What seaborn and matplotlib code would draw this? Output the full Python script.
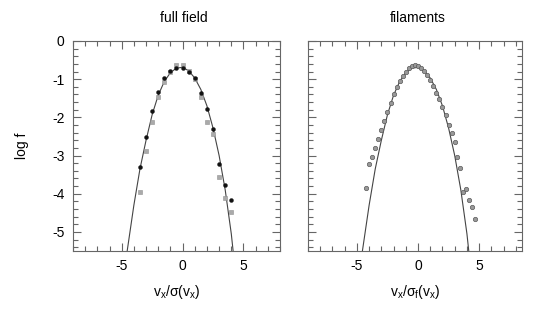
import numpy as np
import pandas as pd
import seaborn as sns
import matplotlib
matplotlib.use("Agg")
import matplotlib.pyplot as plt
from matplotlib.ticker import MultipleLocator

# model curve
curve_x = [-4.55, -4.0, -3.5, -3.0, -2.5, -2.0, -1.5, -1.0, -0.5, 0.0,
           0.5, 1.0, 1.5, 2.0, 2.5, 3.0, 3.5, 4.0, 4.15]
curve_y = [-5.5, -4.3, -3.35, -2.6, -1.93, -1.42, -1.06, -0.83, -0.71, -0.69,
           -0.78, -0.97, -1.27, -1.7, -2.28, -3.0, -3.9, -5.05, -5.5]

# full field: black points
full_x = [-3.5, -3.0, -2.5, -2.0, -1.5, -1.0, -0.5, 0.0, 0.5, 1.0, 1.5, 2.0, 2.5, 3.0, 3.5, 4.0]
full_y = [-3.29, -2.51, -1.84, -1.33, -0.98, -0.78, -0.70, -0.72, -0.81, -0.98,
          -1.36, -1.78, -2.31, -3.23, -3.77, -4.17]

# full field: grey points
grey_x = [-3.5, -3.0, -2.5, -2.0, -1.5, -1.0, -0.5, 0.0, 0.5, 1.0, 1.5, 2.0, 2.5, 3.0, 3.5, 4.0]
grey_y = [-3.96, -2.88, -2.11, -1.46, -1.07, -0.80, -0.64, -0.64, -0.78, -1.00,
          -1.46, -2.13, -2.44, -3.56, -4.12, -4.49]

# filaments
fil_x = [-4.25, -4.0, -3.75, -3.5, -3.25, -3.0, -2.75, -2.5, -2.25, -2.0, -1.75, -1.5,
         -1.25, -1.0, -0.75, -0.5, -0.25, 0.0, 0.25, 0.5, 0.75, 1.0, 1.25, 1.5, 1.75,
         2.0, 2.25, 2.5, 2.75, 3.0, 3.2, 3.41, 3.69, 3.93, 4.18, 4.42, 4.64]
fil_y = [-3.85, -3.22, -3.03, -2.81, -2.57, -2.33, -2.09, -1.86, -1.62, -1.40, -1.20, -1.05,
         -0.92, -0.81, -0.72, -0.66, -0.64, -0.65, -0.71, -0.79, -0.90, -1.02, -1.17, -1.35, -1.53,
         -1.74, -1.95, -2.2, -2.42, -2.64, -3.04, -3.33, -3.96, -3.88, -4.16, -4.35, -4.66]

curve = pd.DataFrame({"x": curve_x, "y": curve_y})
full = pd.DataFrame({"x": full_x, "y": full_y})
grey = pd.DataFrame({"x": grey_x, "y": grey_y})
fil = pd.DataFrame({"x": fil_x, "y": fil_y})

sns.set_style("ticks")
plt.rcParams["font.family"] = ["Liberation Sans", "DejaVu Sans"]
plt.rcParams["axes.unicode_minus"] = False
plt.rcParams["mathtext.fontset"] = "custom"
plt.rcParams["mathtext.rm"] = "Liberation Sans"
plt.rcParams["mathtext.it"] = "Liberation Sans"
plt.rcParams["text.color"] = "black"
plt.rcParams["axes.labelcolor"] = "black"
plt.rcParams["xtick.labelcolor"] = "black"
plt.rcParams["ytick.labelcolor"] = "black"

fig = plt.figure(figsize=(5.5, 3.17), dpi=100)
ax1 = fig.add_axes([0.1327, 0.2082, 0.3764, 0.6625])
ax2 = fig.add_axes([0.56, 0.2082, 0.389, 0.6625])

axis_col = "#666666"

for ax in (ax1, ax2):
    sns.lineplot(data=curve, x="x", y="y", ax=ax, color="#444444", lw=0.8,
                 sort=False, estimator=None)
    ax.set_ylim(-5.5, 0)
    ax.xaxis.set_major_locator(MultipleLocator(5))
    ax.xaxis.set_minor_locator(MultipleLocator(1))
    ax.yaxis.set_major_locator(MultipleLocator(1))
    ax.yaxis.set_minor_locator(MultipleLocator(0.2))
    ax.tick_params(which="both", direction="in", top=True, right=True,
                   color=axis_col, width=0.8, labelsize=10, pad=6)
    ax.tick_params(which="major", length=6)
    ax.tick_params(which="minor", length=3.5)
    for s in ax.spines.values():
        s.set_color(axis_col)
        s.set_linewidth(0.8)

sns.scatterplot(data=grey, x="x", y="y", ax=ax1, marker="s", s=7,
                color="#aaaaaa", edgecolor="#909090", linewidth=0.4, zorder=3)
sns.scatterplot(data=full, x="x", y="y", ax=ax1, marker="o", s=8,
                color="#111111", edgecolor="#111111", linewidth=0.3, zorder=4)
sns.scatterplot(data=fil, x="x", y="y", ax=ax2, marker="o", s=10,
                color="#999999", edgecolor="#5a5a5a", linewidth=0.5, zorder=3)

ax1.set_xlim(-9, 8)
ax2.set_xlim(-9, 8.5)
ax1.set_yticks([0, -1, -2, -3, -4, -5])
ax2.tick_params(labelleft=False)

ax1.set_xlabel(r"$\mathregular{v_x/\sigma(v_x)}$", fontsize=10, labelpad=7)
ax2.set_xlabel(r"$\mathregular{v_x/\sigma_f(v_x)}$", fontsize=10, labelpad=7)
ax1.set_ylabel("log f", fontsize=10, labelpad=17)
ax2.set_ylabel("")

ax1.set_title("full field", fontsize=10, x=0.533, pad=14)
ax2.set_title("filaments", fontsize=10, x=0.513, pad=14)

fig.savefig("out.png", dpi=100)
